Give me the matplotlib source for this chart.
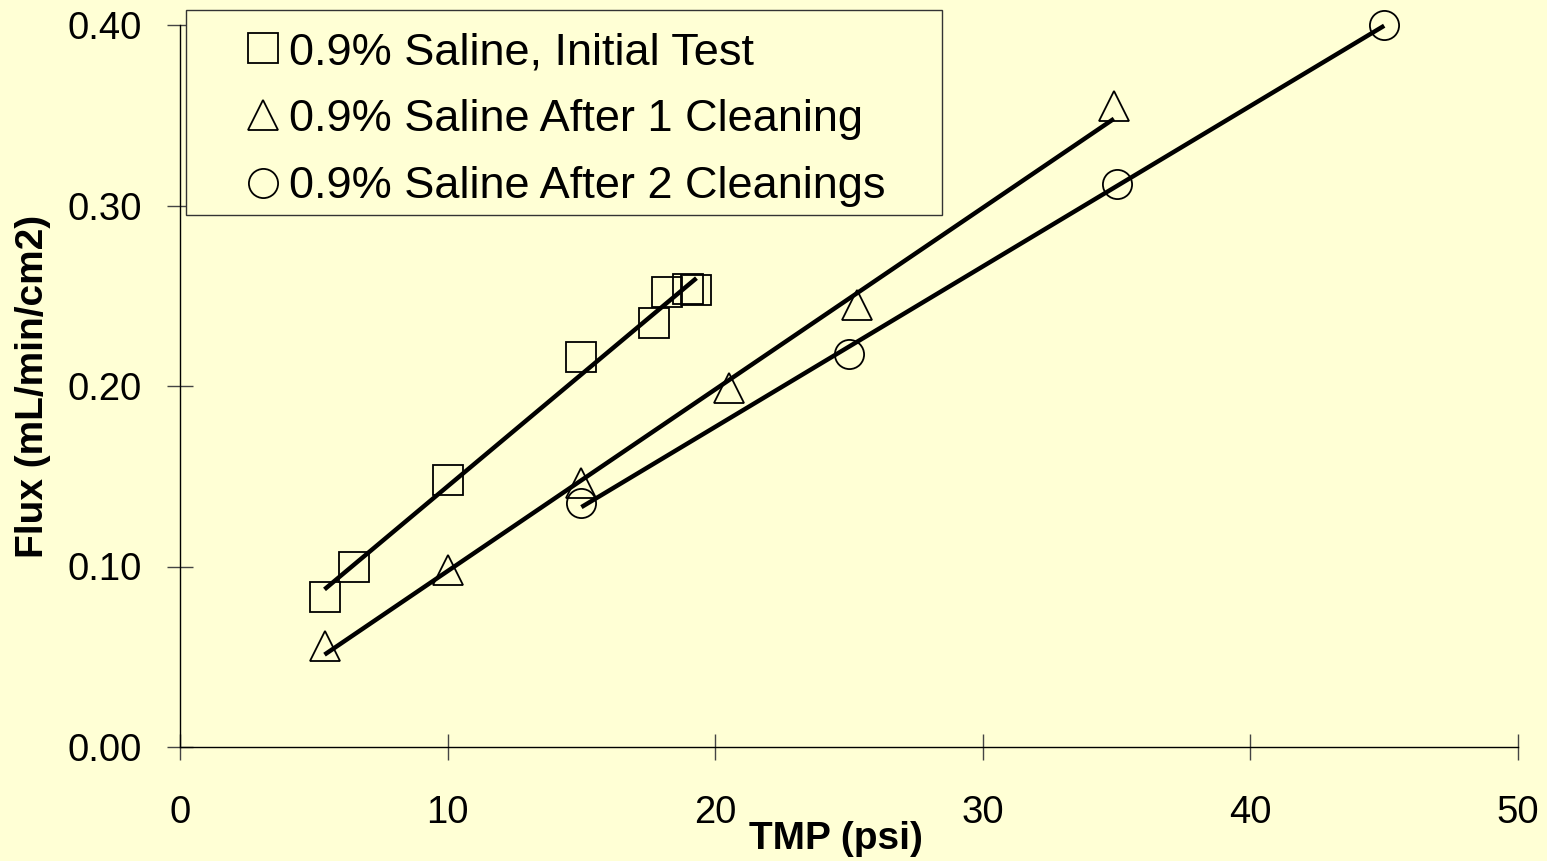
import numpy as np
import matplotlib.pyplot as plt
from matplotlib.patches import Rectangle

# TMP (psi) vs flux (mL/min/cm2)
tmp_initial = [5.4, 6.5, 10.0, 15.0, 17.7, 18.2, 19.0, 19.3]
flux_initial = [0.083, 0.100, 0.148, 0.216, 0.235, 0.252, 0.254, 0.253]

tmp_clean1 = [5.4, 10.0, 15.0, 20.5, 25.3, 34.9]
flux_clean1 = [0.056, 0.098, 0.146, 0.199, 0.245, 0.355]

tmp_clean2 = [15.0, 25.0, 35.0, 45.0]
flux_clean2 = [0.135, 0.218, 0.312, 0.400]

labels = ['0.9% Saline, Initial Test',
          '0.9% Saline After 1 Cleaning',
          '0.9% Saline After 2 Cleanings']
markers = ['s', '^', 'o']

x_ticks = [0, 10, 20, 30, 40, 50]
y_ticks = [0.0, 0.1, 0.2, 0.3, 0.4]

bg = '#FFFFD5'
plt.rcParams['font.family'] = ['Liberation Sans', 'DejaVu Sans']

fig = plt.figure(figsize=(15.47, 8.61), dpi=100, facecolor=bg)
ax = fig.add_axes([180/1547, 1 - 747/861, 1338/1547, 722/861])
ax.set_facecolor(bg)

series = [(tmp_initial, flux_initial), (tmp_clean1, flux_clean1), (tmp_clean2, flux_clean2)]
for (x, y), m, lab in zip(series, markers, labels):
    x = np.array(x)
    y = np.array(y)
    # linear trendline over the range of the data
    k, b = np.polyfit(x, y, 1)
    xs = np.array([x.min(), x.max()])
    ax.plot(xs, k*xs + b, color='black', lw=3.2, solid_capstyle='butt', zorder=3, clip_on=False)
    ax.plot(x, y, linestyle='none', marker=m, ms=21, mfc='none', mec='black', mew=1.3,
            label=lab, zorder=4, clip_on=False)

ax.set_xlim(0, 50)
ax.set_ylim(0, 0.4)
ax.set_xticks(x_ticks)
ax.set_yticks(y_ticks)
ax.set_yticklabels(['{:.2f}'.format(v) for v in y_ticks])

for s in ['top', 'right']:
    ax.spines[s].set_visible(False)
for s in ['left', 'bottom']:
    ax.spines[s].set_linewidth(1.0)
    ax.spines[s].set_color('black')

ax.tick_params(axis='both', direction='inout', length=19, width=1, color='#444444', labelsize=27.5)
ax.tick_params(axis='x', pad=25)
ax.tick_params(axis='y', pad=18)

ax.set_xlabel('TMP (psi)', fontsize=28, fontweight='bold')
ax.xaxis.set_label_coords(0.490, -0.128)
ax.xaxis.label.set_va('center')
ax.set_ylabel('Flux (mL/min/cm2)', fontsize=28, fontweight='bold')
ax.yaxis.set_label_coords(-0.110, 0.5)
ax.yaxis.label.set_va('center')

# legend frame, then legend
fig.patches.append(Rectangle((186/1547, 1 - 215/861), 756/1547, 205/861,
                             transform=fig.transFigure, facecolor=bg,
                             edgecolor='#333333', lw=1.0, zorder=0))
leg = fig.legend(loc='upper left', bbox_to_anchor=(240/1547, 1 - 32/861),
                 frameon=False, fontsize=32.5, handlelength=1.0,
                 handletextpad=0.09, labelspacing=0.58, borderpad=0.0,
                 borderaxespad=0.0, numpoints=1)

fig.savefig('out.png', dpi=100, facecolor=bg)
